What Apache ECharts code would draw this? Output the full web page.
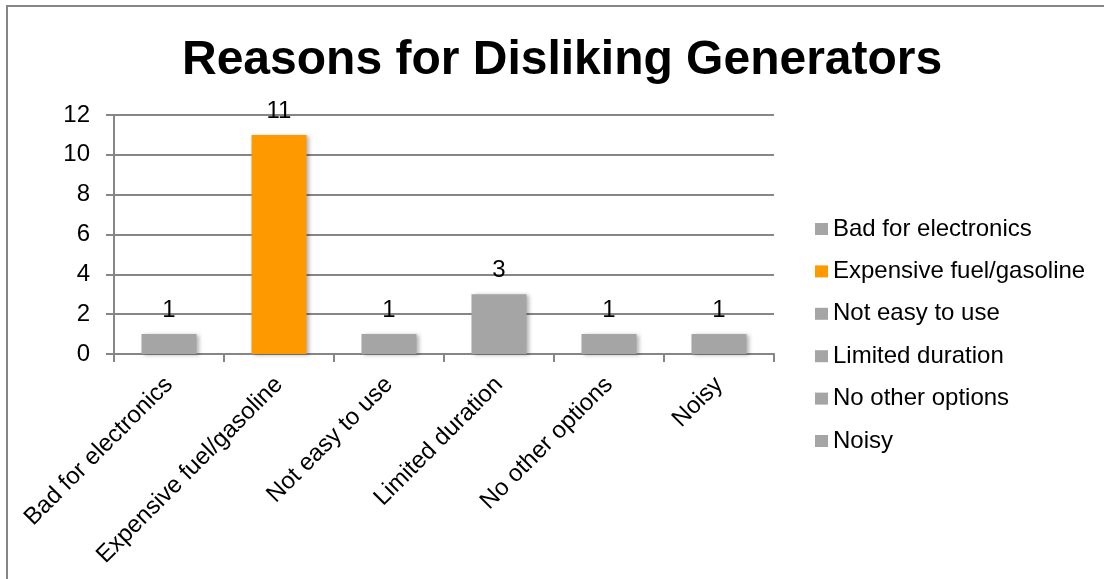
<!DOCTYPE html>
<html>
<head>
<meta charset="utf-8">
<script src="https://cdn.jsdelivr.net/npm/echarts@6/dist/echarts.min.js"></script>
<style>
html,body{margin:0;padding:0;background:#fff;}
#chart{width:1104px;height:579px;}
</style>
</head>
<body>
<div id="chart"></div>
<script>
const titleText = 'Reasons for Disliking Generators';
const categories = ['Bad for electronics', 'Expensive fuel/gasoline', 'Not easy to use', 'Limited duration', 'No other options', 'Noisy'];
const values = [1, 11, 1, 3, 1, 1];
const colors = ['#a5a5a5', '#ff9900', '#a5a5a5', '#a5a5a5', '#a5a5a5', '#a5a5a5'];
const yTicks = { min: 0, max: 12, interval: 2 };

const FONT = '"Liberation Sans", Arial, sans-serif';
const series = categories.map((name, i) => ({
  name: name,
  type: 'bar',
  stack: 'all',
  barWidth: 55,
  data: values.map((v, j) => (j === i ? v : '-')),
  itemStyle: {
    color: colors[i],
    shadowBlur: 4,
    shadowColor: 'rgba(0,0,0,0.3)',
    shadowOffsetX: 2,
    shadowOffsetY: 1
  },
  label: {
    show: true,
    position: 'top',
    distance: 12,
    color: '#000',
    fontSize: 24,
    fontFamily: FONT
  },
  emphasis: { disabled: true }
}));

const chart = echarts.init(document.getElementById('chart'), null, { renderer: 'canvas' });
chart.setOption({
  animation: false,
  backgroundColor: '#fff',
  title: {
    text: titleText,
    left: 177,
    top: 32,
    textStyle: { fontSize: 48, fontWeight: 'bold', color: '#000', fontFamily: FONT }
  },
  legend: {
    orient: 'vertical',
    left: 810,
    top: 212,
    itemWidth: 13,
    itemHeight: 12,
    itemGap: 18.4,
    icon: 'rect',
    data: categories,
    textStyle: { fontSize: 24, lineHeight: 24, color: '#000', fontFamily: FONT }
  },
  grid: { left: 114, top: 115, width: 660, height: 239, containLabel: false },
  xAxis: {
    type: 'category',
    data: categories,
    axisLine: { show: true, lineStyle: { color: '#868686', width: 2 } },
    axisTick: { show: true, alignWithLabel: false, length: 8, lineStyle: { color: '#868686', width: 2 } },
    axisLabel: { rotate: 45, margin: 27, fontSize: 24, color: '#000', fontFamily: FONT, interval: 0 },
    splitLine: { show: false }
  },
  yAxis: {
    type: 'value',
    min: yTicks.min,
    max: yTicks.max,
    interval: yTicks.interval,
    axisLine: { show: true, lineStyle: { color: '#868686', width: 2 } },
    axisTick: { show: true, length: 8, lineStyle: { color: '#868686', width: 2 } },
    axisLabel: { margin: 24, fontSize: 24, color: '#000', fontFamily: FONT },
    splitLine: { show: true, lineStyle: { color: '#868686', width: 2 } }
  },
  graphic: [
    { type: 'rect', shape: { x: 7, y: 6, width: 1300, height: 800 }, style: { fill: 'none', stroke: '#868686', lineWidth: 2 }, silent: true }
  ],
  series: series
});
</script>
</body>
</html>
